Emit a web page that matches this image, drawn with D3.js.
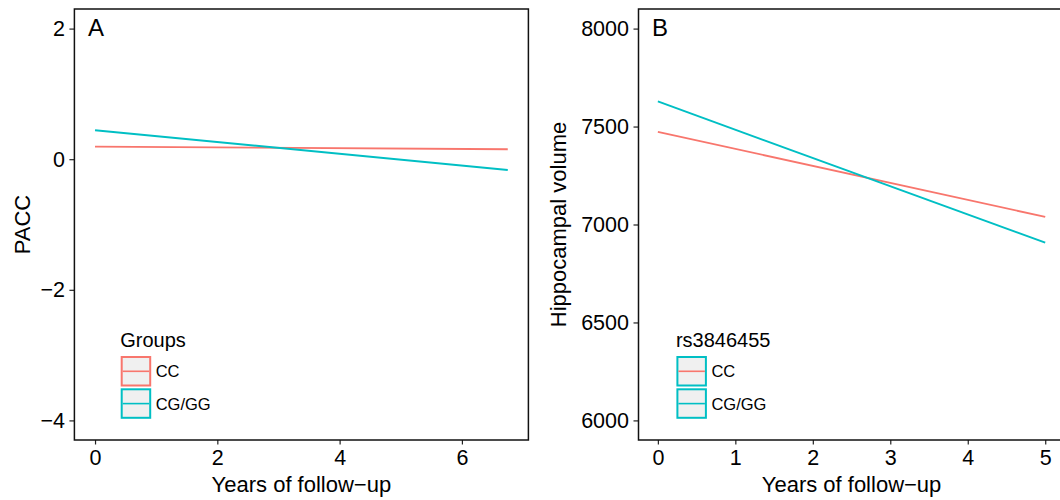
<!DOCTYPE html>
<html>
<head>
<meta charset="utf-8">
<script src="https://cdn.jsdelivr.net/npm/d3@7"></script>
<style>
  html, body { margin: 0; padding: 0; background: #fff; }
  svg { display: block; font-family: "Liberation Sans", Arial, Helvetica, sans-serif; }
</style>
</head>
<body>
<svg id="chart" width="1060" height="500"></svg>
<script>
// ---- data ----
const groups = ["CC", "CG/GG"];
const colors = ["#F8766D", "#00BFC4"];

const yearsA = [0, 6.75];
const paccCC = [0.193, 0.152];
const paccCGGG = [0.443, -0.165];

const yearsB = [0, 5];
const hippoCC = [7473, 7039];
const hippoCGGG = [7628, 6907];

const ticksAx = [0, 2, 4, 6];
const ticksAy = [-4, -2, 0, 2];
const ticksBx = [0, 1, 2, 3, 4, 5];
const ticksBy = [6000, 6500, 7000, 7500, 8000];

// ---- layout ----
const svg = d3.select("#chart");
const plotTop = 9, plotBottom = 440;

const panels = [
  {
    label: "A", ytitle: "PACC", legendTitle: "Groups",
    x: d3.scaleLinear().domain([-0.3375, 7.0875]).range([74.4, 528.4]),
    y: d3.scaleLinear().domain([-4.3, 2.3]).range([plotBottom, plotTop]),
    xt: ticksAx, yt: ticksAy, years: yearsA, series: [paccCC, paccCGGG],
    ytitleX: 30, legendX: 120.7, legendBorders: colors
  },
  {
    label: "B", ytitle: "Hippocampal volume", legendTitle: "rs3846455",
    x: d3.scaleLinear().domain([-0.25, 5.25]).range([638.5, 1064.6]),
    y: d3.scaleLinear().domain([5900, 8100]).range([plotBottom, plotTop]),
    xt: ticksBx, yt: ticksBy, years: yearsB, series: [hippoCC, hippoCGGG],
    ytitleX: 566, legendX: 676.4, legendBorders: [colors[1], colors[1]]
  }
];

panels.forEach(p => {
  const g = svg.append("g");
  const [x0, x1] = p.x.range();

  // axes
  const xa = g.append("g").attr("transform", `translate(0,${plotBottom})`)
    .call(d3.axisBottom(p.x).tickValues(p.xt).tickSize(4.5).tickPadding(5.5).tickFormat(d3.format("d")));
  const ya = g.append("g").attr("transform", `translate(${x0},0)`)
    .call(d3.axisLeft(p.y).tickValues(p.yt).tickSize(5).tickPadding(4.5).tickFormat(d3.format("d")));
  [xa, ya].forEach(a => {
    a.select(".domain").remove();
    a.selectAll(".tick line").attr("stroke", "#222").attr("stroke-width", 1.2);
    a.selectAll(".tick text").attr("fill", "#000").style("font-size", "21.5px")
      .style("font-family", '"Liberation Sans", Arial, sans-serif');
  });

  // lines
  const line = d3.line().x(d => p.x(d[0])).y(d => p.y(d[1]));
  p.series.forEach((s, i) => {
    g.append("path")
      .datum(p.years.map((yr, j) => [yr, s[j]]))
      .attr("d", line)
      .attr("fill", "none")
      .attr("stroke", colors[i])
      .attr("stroke-width", 1.9);
  });

  // panel border
  g.append("rect")
    .attr("x", x0).attr("y", plotTop)
    .attr("width", x1 - x0).attr("height", plotBottom - plotTop)
    .attr("fill", "none").attr("stroke", "#111").attr("stroke-width", 1.5);

  // panel label
  g.append("text").attr("x", x0 + 13.5).attr("y", 36)
    .style("font-size", "24px").text(p.label);

  // x title
  g.append("text").attr("x", (x0 + x1) / 2).attr("y", 491.5)
    .attr("text-anchor", "middle").style("font-size", "22px")
    .text("Years of follow\u2212up");

  // y title
  g.append("text")
    .attr("transform", `translate(${p.ytitleX},${(plotTop + plotBottom) / 2}) rotate(-90)`)
    .attr("text-anchor", "middle").style("font-size", "22px")
    .text(p.ytitle);

  // legend
  const lg = g.append("g").attr("transform", `translate(${p.legendX},0)`);
  lg.append("text").attr("x", -0.5).attr("y", 347.3).style("font-size", "20px").text(p.legendTitle);
  groups.forEach((name, i) => {
    const by = 357 + i * 32.3;
    lg.append("rect").attr("x", 1).attr("y", by).attr("width", 28.5).attr("height", 28.5)
      .attr("fill", "#f0f0f0").attr("stroke", p.legendBorders[i]).attr("stroke-width", 2);
    lg.append("line").attr("x1", 2).attr("x2", 28.5).attr("y1", by + 14.3).attr("y2", by + 14.3)
      .attr("stroke", colors[i]).attr("stroke-width", 1.6);
    lg.append("text").attr("x", 35).attr("y", by + 20.3).style("font-size", "16.5px").text(name);
  });
});
</script>
</body>
</html>
